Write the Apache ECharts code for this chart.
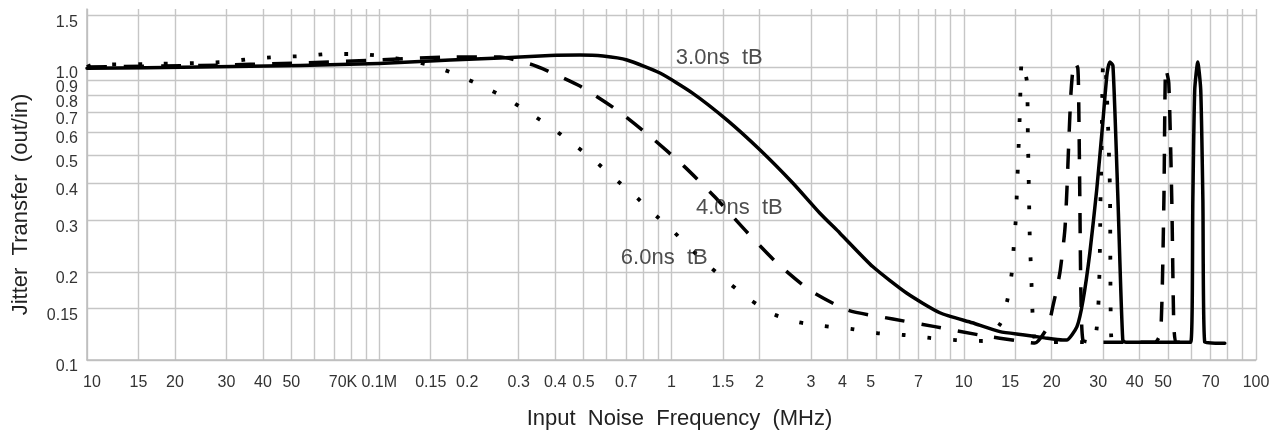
<!DOCTYPE html>
<html><head><meta charset="utf-8">
<script src="https://cdn.jsdelivr.net/npm/echarts@6/dist/echarts.min.js"></script>
<style>html,body{margin:0;padding:0;background:#fff}#c{width:1273px;height:437px}</style>
</head><body><div id="c"></div>
<script>
// Grid line positions (log paper) and tick labels
const xGridValues = [0.01,0.015,0.02,0.03,0.04,0.05,0.06,0.07,0.08,0.09,
  0.1,0.15,0.2,0.3,0.4,0.5,0.6,0.7,0.8,0.9,
  1,1.5,2,3,4,5,6,7,8,9,
  10,15,20,30,40,50,60,70,80,90,100];
const xTickValues = [0.01,0.015,0.02,0.03,0.04,0.05,0.07,0.1,0.15,0.2,0.3,0.4,0.5,0.7,1,1.5,2,3,4,5,7,10,15,20,30,40,50,70,100];
const xTickLabels = ['10','15','20','30','40','50','70K','0.1M','0.15','0.2','0.3','0.4','0.5','0.7','1','1.5','2','3','4','5','7','10','15','20','30','40','50','70','100'];
const yTickValues = [0.1,0.15,0.2,0.3,0.4,0.5,0.6,0.7,0.8,0.9,1.0,1.5];
const yTickLabels = ['0.1','0.15','0.2','0.3','0.4','0.5','0.6','0.7','0.8','0.9','1.0','1.5'];

// 3.0ns tB (solid)
const freq3 = [0.01,0.0244,0.0536,0.1,0.175,0.259,0.384,0.486,0.583,0.704,0.913,1.18,1.55,2.01,2.60,3.22,3.77,4.89,6.39,8.28,10.7,13.3,15.9,18.9,21.8,22.5,24.4,25.6,27.0,28.5,29.9,30.9,31.6,32.4,33.7,35.0,35.9,59.8,60.8,61.7,63.2,64.7,65.8,66.8,78.2];
const jt3   = [0.99,1.0,1.012,1.028,1.057,1.073,1.095,1.099,1.09,1.057,0.954,0.815,0.659,0.521,0.402,0.317,0.271,0.208,0.169,0.145,0.134,0.125,0.122,0.119,0.117,0.117,0.130,0.160,0.232,0.380,0.644,0.94,1.04,1.01,0.352,0.117,0.115,0.115,0.352,0.834,1.04,0.834,0.352,0.115,0.114];

// 4.0ns tB (dashed)
const freq4 = [0.01,0.0244,0.0536,0.1,0.1746,0.259,0.328,0.378,0.486,0.651,0.850,1.103,1.408,1.783,2.277,2.975,4.013,5.721,7.966,11.17,15.80,17.51,19.40,20.17,21.32,22.18,22.54,22.89,23.25,23.62,23.99,24.57,24.76,24.96,25.16,25.56,27.0,45.06,47.2,48.4,49.1,50.3,51.5,52.3,53.1,54.87];
const jt4   = [1.0,1.012,1.032,1.057,1.082,1.082,1.024,0.969,0.861,0.713,0.577,0.459,0.360,0.278,0.216,0.173,0.148,0.138,0.130,0.122,0.1157,0.1143,0.130,0.152,0.198,0.278,0.380,0.563,0.803,0.977,1.040,0.99,0.713,0.352,0.173,0.117,0.115,0.115,0.124,0.352,0.992,0.882,0.352,0.134,0.115,0.115];

// 6.0ns tB (dotted)
const freq6 = [0.01,0.0104,0.01567,0.02378,0.02919,0.03611,0.04467,0.05483,0.06676,0.08324,0.1021,0.1274,0.1527,0.1859,0.2263,0.2713,0.3227,0.3868,0.4563,0.5384,0.6303,0.7379,0.857,1.003,1.165,1.353,1.585,1.869,2.223,2.706,3.322,4.109,5.043,6.239,7.656,9.398,11.63,13.39,14.15,14.61,14.84,15.08,15.20,15.32,15.44,15.56,15.80,16.44,16.57,16.70,16.83,16.97,17.10,17.24,17.79,27.65,29.45,29.92,30.39,31.61,32.11,34.2];
const jt6   = [1.0,1.016,1.024,1.032,1.040,1.065,1.082,1.090,1.108,1.108,1.090,1.05,1.008,0.939,0.858,0.784,0.702,0.624,0.550,0.485,0.421,0.369,0.320,0.278,0.239,0.208,0.182,0.160,0.1435,0.1348,0.1306,0.1276,0.1236,0.1217,0.1189,0.117,0.1161,0.1338,0.1628,0.1997,0.247,0.305,0.3745,0.459,0.568,0.697,1.048,0.896,0.591,0.389,0.2568,0.2093,0.1693,0.139,0.115,0.115,0.40,1.0,1.048,0.40,0.115,0.115];

const noteText = ['3.0ns  tB','4.0ns  tB','6.0ns  tB'];
const noteFreq = [1.035,1.212,0.671];
const noteJT   = [1.073,0.330,0.2229];

const FONT = '"Liberation Sans", Arial, sans-serif';
const zip = (a,b) => a.map((v,i)=>[v,b[i]]);
// small horizontal nudges of some x tick labels (by tick value), as in the scanned original
const xLabelNudge = [[0.01,'r'],[0.07,'rr'],[4,'l'],[5,'l'],[15,'l'],[30,'l'],[40,'l'],[50,'l']];
const near = (a,b) => Math.abs(a-b) < Math.abs(a)*1e-6;
const xFormatter = (v) => {
  for (let i=0;i<xTickValues.length;i++) if (near(xTickValues[i],v)) {
    const t = xTickLabels[i];
    const n = xLabelNudge.find(p => near(p[0], v));
    return n ? '{' + n[1] + '|' + t + '}' : t;
  }
  return '';
};
const yFormatter = (v) => {
  for (let i=0;i<yTickValues.length;i++) if (near(yTickValues[i],v)) return yTickLabels[i];
  return '';
};
const tickFont = {fontFamily:FONT,fontSize:16,color:'#333'};

const chart = echarts.init(document.getElementById('c'), null, {renderer:'canvas'});
const lineBase = {type:'line', showSymbol:false, symbol:'none', smooth:0.2, animation:false, z:3};
chart.setOption({
  backgroundColor:'#fff',
  animation:false,
  grid:{left:87,right:17,top:9,bottom:77,containLabel:false,outerBoundsMode:'none'},
  xAxis:{
    type:'log', logBase:10, min:0.01, max:100,
    name:'Input  Noise  Frequency  (MHz)', nameLocation:'middle', nameGap:48,
    nameTextStyle:{fontFamily:FONT,fontSize:22,color:'#222',padding:[0,0,0,16]},
    axisLine:{show:true,lineStyle:{color:'#bdbdbd',width:1.5}},
    axisTick:{show:false,customValues:xGridValues},
    minorTick:{show:false}, minorSplitLine:{show:false},
    splitLine:{show:true,lineStyle:{color:'#c6c6c6',width:1.4}},
    axisLabel:Object.assign({customValues:xTickValues,formatter:xFormatter,margin:15,
      hideOverlap:false,showMinLabel:true,showMaxLabel:true,
      rich:{
        r:Object.assign({padding:[0,0,0,10]},tickFont),
        rr:Object.assign({padding:[0,0,0,18]},tickFont),
        l:Object.assign({padding:[0,10,0,0]},tickFont)
      }}, tickFont)
  },
  yAxis:{
    type:'log', logBase:10, min:0.1, max:1.578,
    name:'Jitter  Transfer  (out/in)', nameLocation:'middle', nameGap:55, nameRotate:90,
    nameTextStyle:{fontFamily:FONT,fontSize:22,color:'#222',padding:[0,40,0,0]},
    axisLine:{show:true,lineStyle:{color:'#bdbdbd',width:1.5}},
    axisTick:{show:false,customValues:yTickValues},
    minorTick:{show:false}, minorSplitLine:{show:false},
    splitLine:{show:true,lineStyle:{color:'#c6c6c6',width:1.4}},
    axisLabel:Object.assign({customValues:yTickValues,formatter:yFormatter,margin:9,
      verticalAlign:'top',lineHeight:14,
      hideOverlap:false,showMinLabel:true,showMaxLabel:true}, tickFont)
  },
  series:[
    Object.assign({}, lineBase, {name:'3.0ns', data:zip(freq3,jt3),
      lineStyle:{color:'#000',width:3.5,type:'solid',join:'round',cap:'round'}}),
    Object.assign({}, lineBase, {name:'4.0ns', data:zip(freq4,jt4),
      lineStyle:{color:'#000',width:3.5,type:[20,17],join:'round',cap:'butt'}}),
    Object.assign({}, lineBase, {name:'6.0ns', data:zip(freq6,jt6),
      lineStyle:{color:'#000',width:3.8,type:[3.8,22],join:'round',cap:'butt'}}),
    {type:'scatter', symbolSize:0, animation:false, z:5, data:zip(noteFreq,noteJT).map((p,i)=>({value:p,name:noteText[i]})),
      label:{show:true,position:'right',distance:0,formatter:(p)=>p.name,fontFamily:FONT,fontSize:22,color:'#222'}}
  ]
});
</script></body></html>
